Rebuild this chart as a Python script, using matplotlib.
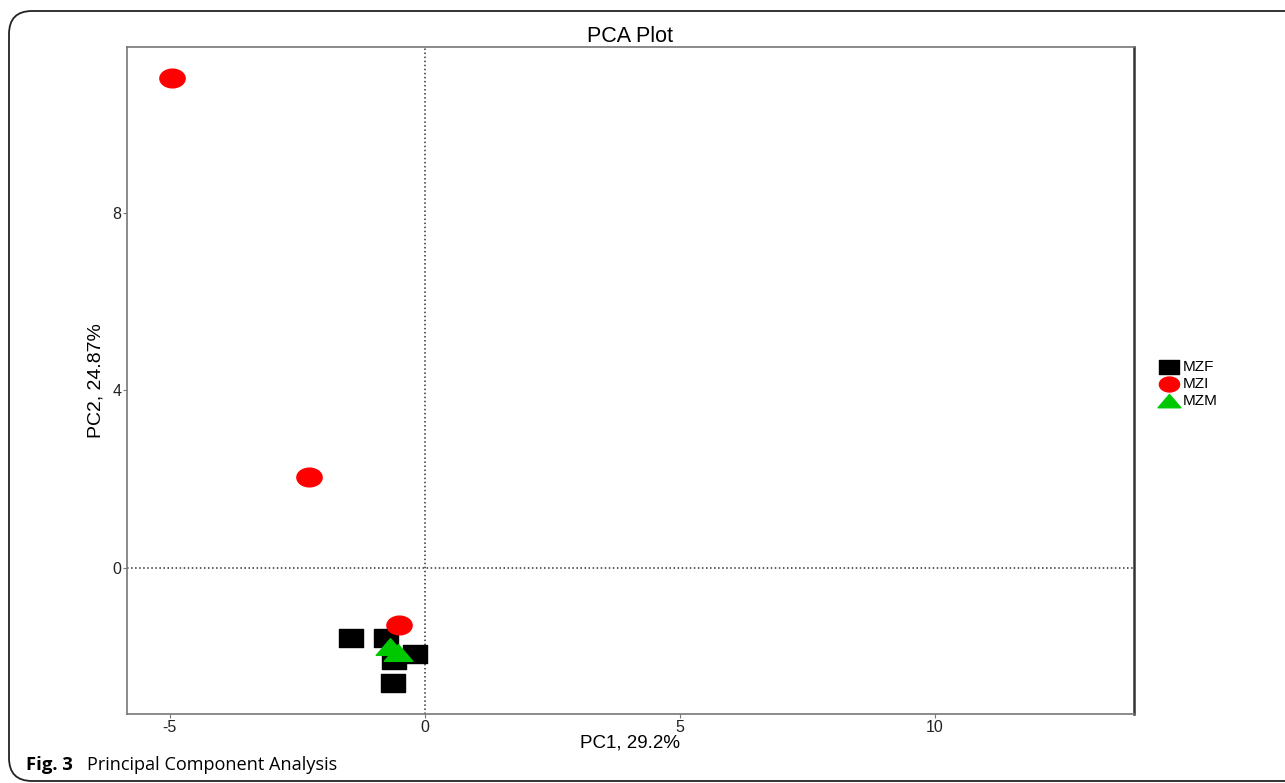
import matplotlib.pyplot as plt
import numpy as np
from matplotlib.path import Path
from matplotlib.transforms import Affine2D
from matplotlib.patches import FancyBboxPatch

plt.rcParams['font.family'] = ['Liberation Sans', 'DejaVu Sans']
plt.rcParams['axes.unicode_minus'] = False

# sample scores on the first two components
mzf_pc1 = [-1.45, -0.76, -0.61, -0.20, -0.63]
mzf_pc2 = [-1.58, -1.58, -2.07, -1.94, -2.60]
mzi_pc1 = [-4.96, -2.27, -0.51]
mzi_pc2 = [11.04, 2.05, -1.28]
mzm_pc1 = [-0.69, -0.53]
mzm_pc2 = [-1.78, -1.92]

groups = ['MZF', 'MZI', 'MZM']
colors = ['black', '#ff0000', '#00c800']
xticks = [-5, 0, 5, 10]
yticks = [0, 4, 8]

# markers are squashed a bit vertically
stretch = Affine2D().scale(1.35, 1.0)
sq = Path([(-1, -1), (1, -1), (1, 1), (-1, 1), (-1, -1)],
          [Path.MOVETO, Path.LINETO, Path.LINETO, Path.LINETO, Path.CLOSEPOLY])
square = stretch.transform_path(sq)
ellipse = stretch.transform_path(Path.unit_circle())
tri = Path([(-1, -0.8), (1, -0.8), (0, 0.9), (-1, -0.8)],
           [Path.MOVETO, Path.LINETO, Path.LINETO, Path.CLOSEPOLY])
triangle = Affine2D().scale(1.45, 1.0).transform_path(tri)

fig = plt.figure(figsize=(12.85, 7.83), dpi=100)
ax = fig.add_axes([0.0988, 0.0881, 0.7837, 0.852])

ax.axvline(0, color='#333333', linestyle=':', lw=1.1, zorder=1)
ax.axhline(0, color='#333333', linestyle=':', lw=1.1, zorder=1)

ax.scatter(mzf_pc1, mzf_pc2, marker=square, s=300, color=colors[0],
           label=groups[0], zorder=3)
ax.scatter(mzi_pc1, mzi_pc2, marker=ellipse, s=330, color=colors[1],
           label=groups[1], zorder=3)
ax.scatter(mzm_pc1, mzm_pc2, marker=triangle, s=420, color=colors[2],
           label=groups[2], zorder=4)

ax.set_xlim(-5.84, 13.9)
ax.set_ylim(-3.29, 11.73)
ax.set_xticks(xticks)
ax.set_yticks(yticks)
ax.tick_params(direction='out', length=3, width=0.8, color='#777777',
               labelsize=11.5, labelcolor='#222222', pad=1)

for side in ['left', 'bottom', 'top']:
    ax.spines[side].set_color('#777777')
    ax.spines[side].set_linewidth(1.2)
ax.spines['right'].set_color('#333333')
ax.spines['right'].set_linewidth(1.8)

ax.set_title('PCA Plot', fontsize=15.5, pad=2)
ax.set_xlabel('PC1, 29.2%', fontsize=13.5, labelpad=0)
ax.set_ylabel('PC2, 24.87%', fontsize=14, labelpad=6)

ax.legend(loc='center left', bbox_to_anchor=(1.02, 0.495), frameon=False,
          fontsize=11, handletextpad=0.35, labelspacing=0.2,
          borderaxespad=0, markerscale=0.8, handlelength=1.1)

# rounded frame round the whole figure plus caption
frame = FancyBboxPatch((9 / 1285, 2 / 783), 1.1, 770 / 783,
                       boxstyle='round,pad=0,rounding_size=0.018',
                       transform=fig.transFigure, fill=False,
                       edgecolor='#222222', lw=1.3, mutation_aspect=1.64)
fig.patches.append(frame)

fig.text(0.0205, 0.0166, 'Fig. 3', fontsize=13.3, fontweight='bold',
         family=['Open Sans', 'DejaVu Sans'], va='baseline')
fig.text(0.0677, 0.0166, 'Principal Component Analysis', fontsize=13.1,
         family=['Open Sans', 'DejaVu Sans'], va='baseline')

fig.savefig('out.png', dpi=100)
